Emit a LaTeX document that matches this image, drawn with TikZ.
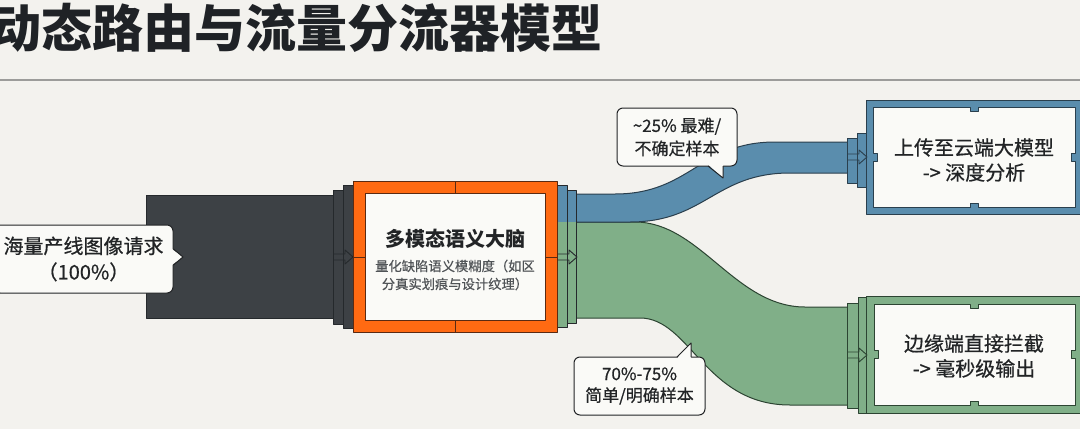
\documentclass[tikz,border=0pt]{standalone}
\usepackage{fontspec}
\setmainfont{Noto Sans CJK SC}
\newfontfamily\medfont{Noto Sans CJK SC}[FakeBold=0.6]
\usetikzlibrary{calc}
\definecolor{bgc}{HTML}{F3F2EE}
\definecolor{titlec}{HTML}{1F2226}
\definecolor{rulec}{HTML}{9C9C9A}
\definecolor{darkc}{HTML}{3D4145}
\definecolor{darkl}{HTML}{25292C}
\definecolor{orangec}{HTML}{FF6A12}
\definecolor{orl}{HTML}{5A2A12}
\definecolor{bluec}{HTML}{5A8DAD}
\definecolor{bluel}{HTML}{2A3F4D}
\definecolor{greenc}{HTML}{80AF88}
\definecolor{greenl}{HTML}{2C4432}
\definecolor{paperc}{HTML}{FAFAF7}
\definecolor{txtc}{HTML}{222426}
\definecolor{subc}{HTML}{505457}
\newcommand\notched[5]{%
  \pgfmathsetmacro\nmx{(#2+#4)/2}%
  \pgfmathsetmacro\nmy{(#3+#5)/2}%
  \filldraw[#1] (#2,#3) -- (\nmx-4,#3) -- (\nmx-4,#3+4) -- (\nmx+4,#3+4) -- (\nmx+4,#3) -- (#4,#3)
    -- (#4,\nmy-4) -- (#4-4,\nmy-4) -- (#4-4,\nmy+4) -- (#4,\nmy+4) -- (#4,#5)
    -- (\nmx+4,#5) -- (\nmx+4,#5-4) -- (\nmx-4,#5-4) -- (\nmx-4,#5) -- (#2,#5)
    -- (#2,\nmy+4) -- (#2+4,\nmy+4) -- (#2+4,\nmy-4) -- (#2,\nmy-4) -- cycle;}
\newcommand\chev[4]{% color, x0, x1, y
  \draw[#1, line width=0.9] (#2,#4-3) -- (#3-8,#4-3) -- (#3-8,#4-7) -- (#3,#4) -- (#3-8,#4+7) -- (#3-8,#4+3) -- (#2,#4+3);}
\tikzset{
  band/.style={line width=1},
  callout/.style={draw=txtc, fill=paperc, line width=1, rounded corners=6, inner sep=0, align=center, text=txtc},
  boxtext/.style={font=\medfont\fontsize{20}{25}\selectfont, align=center, text=txtc, inner sep=0},
}
\begin{document}
\begin{tikzpicture}[x=1pt,y=-1pt,line join=round]
\useasboundingbox (0,0) rectangle (1080,429);
\fill[bgc] (0,0) rectangle (1080,429);

% title
\node[anchor=base west, inner sep=0, font=\fontsize{51}{51}\selectfont\bfseries, text=titlec] (title) at (-10,47.5) {动态路由与流量分流器模型};
\draw[rulec, line width=2] (0,80) -- (1080,80);

% input block
\filldraw[fill=darkc, draw=darkl, band] (146,195) rectangle (335,318);
\filldraw[fill=darkc, draw=darkl, band] (333,190) rectangle (343,324);
\filldraw[fill=darkc, draw=darkl, band] (343,185) rectangle (353,328);
\chev{darkl}{333}{353}{257}

% streams
\filldraw[fill=greenc, draw=greenl, line width=1] (572,222) -- (635,222) .. controls (700,222) and (735,307) .. (805,307) -- (850,307)
  -- (850,405) -- (790,405) .. controls (705,405) and (690,318) .. (640,318) -- (572,318) -- cycle;
\filldraw[fill=bluec, draw=bluel, line width=1] (572,194) -- (615,194) .. controls (690,194) and (700,142) .. (775,142) -- (850,142)
  -- (850,173) -- (790,173) .. controls (715,173) and (705,222) .. (630,222) -- (572,222) -- cycle;

% couplings after brain
\fill[greenc] (557,185) rectangle (567,327);
\fill[bluec] (557,185) rectangle (567,222);
\draw[darkl, band] (557,185) rectangle (567,327);
\fill[greenc] (567,190) rectangle (576,323);
\fill[bluec] (567,190) rectangle (576,222);
\draw[darkl, band] (567,190) rectangle (576,323);
\chev{darkl}{557}{577}{257}

% brain box
\filldraw[fill=orangec, draw=orl, line width=1] (353,181) rectangle (557,332);
\filldraw[fill=paperc, draw=orl, line width=1] (365,193) rectangle (545,320);
\draw[orl, line width=1] (455,181) -- (455,193) (455,320) -- (455,332) (353,257) -- (365,257) (545,257) -- (557,257);
\node[font=\fontsize{20}{24}\selectfont\bfseries, text=txtc, inner sep=0] (brain) at (455,239) {多模态语义大脑};
\node[font=\medfont\fontsize{13.3}{18}\selectfont, text=subc, align=center, inner sep=0] (brainsub) at (455,275) {量化缺陷语义模糊度（如区\\分真实划痕与设计纹理）};

% cloud target
\filldraw[fill=bluec, draw=bluel, band] (847,138) rectangle (857,183);
\filldraw[fill=bluec, draw=bluel, band] (857,133) rectangle (867,187);
\filldraw[fill=bluec, draw=bluel, line width=1] (866,100) rectangle (1090,214);
\notched{fill=paperc, draw=bluel, line width=1}{873}{107}{1075}{207}
\chev{bluel}{847}{867}{157}
\node[boxtext] (cloud) at (974,160) {上传至云端大模型\\-> 深度分析};

% edge target
\filldraw[fill=greenc, draw=greenl, band] (847,303) rectangle (858,408);
\filldraw[fill=greenc, draw=greenl, band] (858,297) rectangle (867,413);
\filldraw[fill=greenc, draw=greenl, line width=1] (866,296) rectangle (1090,413);
\notched{fill=paperc, draw=greenl, line width=1}{874}{304}{1075}{405}
\chev{greenl}{847}{867}{355}
\node[boxtext] (edge) at (974,356) {边缘端直接拦截\\-> 毫秒级输出};

% callouts
\node[callout, minimum width=179pt, minimum height=68pt, font=\medfont\fontsize{20}{26}\selectfont] (inq) at (83.5,259) {海量产线图像请求\\（100\%）};
\coordinate (inqtip) at (183,257);
\fill[paperc] ($(inq.east)+(-1.5,-10)$) -- (inqtip) -- ($(inq.east)+(-1.5,6)$) -- cycle;
\draw[txtc, line width=1] ($(inq.east)+(0,-10)$) -- (inqtip) -- ($(inq.east)+(0,6)$);

\node[callout, minimum width=120pt, minimum height=58pt, font=\medfont\fontsize{17}{23}\selectfont] (hard) at (677,137) {\textasciitilde25\% 最难/\\不确定样本};
\coordinate (hardtip) at (723,178);
\fill[paperc] (708,164.5) -- (hardtip) -- (723,164.5) -- cycle;
\draw[txtc, line width=1] (708,166) -- (hardtip) -- (723,166);

\node[callout, minimum width=131pt, minimum height=58pt, font=\medfont\fontsize{17}{21.5}\selectfont] (easy) at (639.5,386) {70\%-75\%\\简单/明确样本};
\coordinate (easytip) at (691,343);
\fill[paperc] (677,358.5) -- (easytip) -- (691,358.5) -- cycle;
\draw[txtc, line width=1] (677,357) -- (easytip) -- (691,357);
\end{tikzpicture}
\end{document}
